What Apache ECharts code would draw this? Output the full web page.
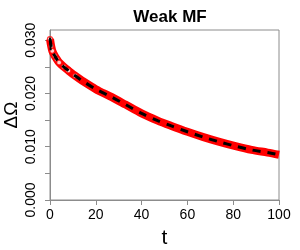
<!DOCTYPE html>
<html><head><meta charset="utf-8">
<script src="https://cdn.jsdelivr.net/npm/echarts@6/dist/echarts.min.js"></script>
<style>html,body{margin:0;padding:0;background:#fff}#c{width:300px;height:250px}</style>
</head><body><div id="c"></div>
<script>
var title = "Weak MF";
var xName = "t";
var yName = "\u0394\u03A9";
var tValues = [0, 0.5, 1, 2, 3, 4, 6, 8, 11, 14, 20, 27, 33, 40, 47, 53, 60, 67, 74, 81, 88, 95, 100];
var redValues = [0.0302, 0.0289, 0.0280, 0.0271, 0.0264, 0.0258, 0.0250, 0.0243, 0.0233, 0.0224, 0.0208, 0.0193, 0.0179, 0.01625, 0.0149, 0.0139, 0.0128, 0.0118, 0.0109, 0.0101, 0.0094, 0.0089, 0.0085];
var blackValues = redValues;
var circleT = [0, 0.5, 1, 2, 3, 4, 6, 8, 11];
var circleValues = [0.0302, 0.0289, 0.0280, 0.0271, 0.0264, 0.0258, 0.0250, 0.0243, 0.0233];
var startT = [0, 0.3];
var startValues = [0.0305, 0.0281];
var yTickLabels = ["0.000", "0.010", "0.020", "0.030"];

function pairs(xs, ys) { return xs.map(function (x, i) { return [x, ys[i]]; }); }
var chart = echarts.init(document.getElementById('c'));
var axisColor = '#8c8c8c';
var font = '"Liberation Sans", Arial, sans-serif';
chart.setOption({
  animation: false,
  title: { text: title, left: 165, top: 4, textAlign: 'center',
    textStyle: { fontFamily: font, fontSize: 17, fontWeight: 'bold', color: '#000' } },
  grid: { left: 50, right: 21, top: 30, bottom: 50, show: true, borderColor: axisColor, borderWidth: 1,
    backgroundColor: 'transparent', containLabel: false, outerBoundsMode: 'none' },
  xAxis: { type: 'value', min: 0, max: 100, interval: 20,
    name: xName, nameLocation: 'middle', nameGap: 28,
    nameTextStyle: { fontFamily: font, fontSize: 21, color: '#000' },
    axisLine: { show: true, lineStyle: { color: axisColor } },
    axisTick: { show: true, length: 5, lineStyle: { color: axisColor } },
    axisLabel: { fontFamily: font, fontSize: 14, color: '#000', margin: 8 },
    splitLine: { show: false } },
  yAxis: { type: 'value', min: 0, max: 0.0319, interval: 0.005,
    name: yName, nameLocation: 'middle', nameGap: 29, nameMoveOverlap: false,
    nameTextStyle: { fontFamily: font, fontSize: 19, color: '#000' },
    axisLine: { show: true, lineStyle: { color: axisColor } },
    axisTick: { show: true, length: 5, lineStyle: { color: axisColor } },
    axisLabel: { fontFamily: font, fontSize: 14, color: '#000', rotate: 90, margin: 12,
      showMaxLabel: false,
      formatter: function (v) {
        var k = Math.round(v / 0.005);
        if (k % 2 !== 0) return '';
        return yTickLabels[k / 2] || '';
      } },
    splitLine: { show: false } },
  series: [
    { type: 'line', data: pairs(tValues, redValues), smooth: 0.3, z: 2,
      lineStyle: { color: '#ff0000', width: 8 }, showSymbol: false },
    { type: 'scatter', data: pairs(circleT, circleValues), z: 3,
      symbol: 'circle', symbolSize: 5,
      itemStyle: { color: '#ffffff', borderColor: '#ff0000', borderWidth: 1.3 } },
    { type: 'line', data: pairs(startT, startValues), showSymbol: false, z: 4,
      lineStyle: { color: '#000', width: 2 } },
    { type: 'line', data: pairs(tValues, blackValues), smooth: 0.3, showSymbol: false, z: 5,
      lineStyle: { color: '#000', width: 3, type: [8, 7] } }
  ]
});
</script></body></html>
